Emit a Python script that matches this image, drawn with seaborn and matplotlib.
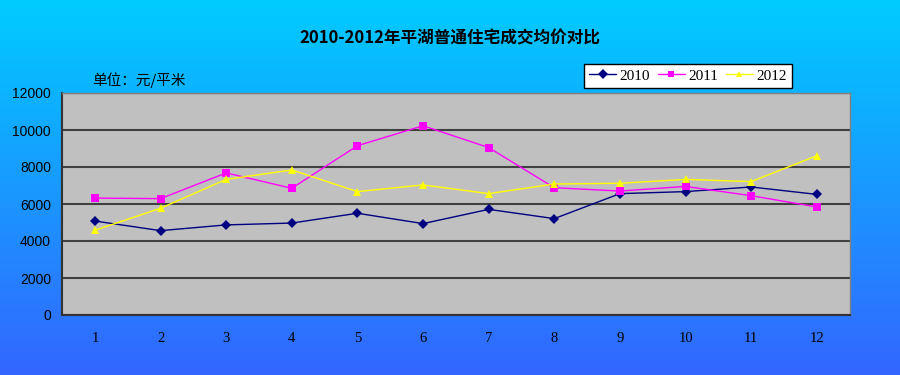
import numpy as np
import pandas as pd
import matplotlib
matplotlib.use("Agg")
import matplotlib.pyplot as plt
import seaborn as sns
from matplotlib.colors import LinearSegmentedColormap

months = list(range(1, 13))
price_2010 = [5080, 4560, 4870, 4970, 5500, 4940, 5710, 5210, 6560, 6670, 6920, 6520]
price_2011 = [6320, 6290, 7680, 6850, 9150, 10230, 9050, 6880, 6700, 6950, 6450, 5840]
price_2012 = [4580, 5770, 7330, 7840, 6670, 7030, 6560, 7080, 7120, 7330, 7210, 8610]
years = ["2010", "2011", "2012"]
title = "2010-2012年平湖普通住宅成交均价对比"
unit_label = "单位：元/平米"
yticks = [0, 2000, 4000, 6000, 8000, 10000, 12000]

df = pd.DataFrame({
    "month": months * 3,
    "price": price_2010 + price_2011 + price_2012,
    "year": [y for y in years for _ in months],
})

sns.set_theme(style="white")
plt.rcParams["font.family"] = ["Noto Sans CJK SC", "DejaVu Sans"]
plt.rcParams["text.color"] = "black"
plt.rcParams["xtick.color"] = "black"
plt.rcParams["ytick.color"] = "black"

fig = plt.figure(figsize=(9, 3.75), dpi=100)

# gradient background
bg = fig.add_axes([0, 0, 1, 1], zorder=-10)
cmap = LinearSegmentedColormap.from_list("bg", ["#00CCFF", "#3366FF"])
grad = np.linspace(0, 1, 256).reshape(-1, 1)
bg.imshow(grad, aspect="auto", cmap=cmap, extent=[0, 1, 0, 1], origin="upper")
bg.set_axis_off()

ax = fig.add_axes([0.069, 0.16, 0.875, 0.592])
ax.set_facecolor("#C0C0C0")

palette = {"2010": "#000080", "2011": "#FF00FF", "2012": "#FFFF00"}
markers = {"2010": "D", "2011": "s", "2012": "^"}
sns.lineplot(data=df, x="month", y="price", hue="year", style="year",
             palette=palette, markers=markers, dashes=False, linewidth=1,
             markersize=6, markeredgewidth=0, ax=ax)
for line, y in zip(ax.get_lines(), years):
    if y == "2010":
        line.set_markersize(5)

ax.set_xlim(0.5, 12.5)
ax.set_ylim(0, 12000)
ax.set_yticks(yticks)
ax.set_yticklabels([str(v) for v in yticks], fontsize=10, family="Liberation Sans")
ax.set_xticks(months)
ax.set_xticklabels([str(m) for m in months], fontsize=10.5, family="Liberation Serif")
ax.tick_params(axis="x", length=0, pad=12)
ax.tick_params(axis="y", length=0, pad=8)
ax.set_xticks(np.arange(1.5, 12.5, 1), minor=True)
ax.tick_params(axis="x", which="minor", direction="in", length=4, color="black", width=1)
ax.yaxis.grid(True, color="#404040", linewidth=1.5)
ax.xaxis.grid(False)
ax.set_xlabel("")
ax.set_ylabel("")
for s in ["left", "bottom"]:
    ax.spines[s].set_color("#333333")
    ax.spines[s].set_linewidth(1.5)
for s in ["top", "right"]:
    ax.spines[s].set_color("#808080")
    ax.spines[s].set_linewidth(1)

leg = ax.legend(loc="lower right", bbox_to_anchor=(0.927, 1.0225), ncol=3, frameon=True,
                fontsize=11, handlelength=1.8, columnspacing=0.5, handletextpad=0.2,
                borderpad=0.35, borderaxespad=0, fancybox=False, markerscale=0.8,
                framealpha=1)
leg.get_frame().set_edgecolor("black")
leg.get_frame().set_facecolor("white")
leg.get_frame().set_linewidth(1)
for t in leg.get_texts():
    t.set_family("Liberation Serif")

fig.text(0.5, 0.898, title, ha="center", va="center", fontsize=12, fontweight="bold")
fig.text(0.102, 0.785, unit_label, ha="left", va="center", fontsize=10.5)

fig.savefig("out.png", dpi=100)
